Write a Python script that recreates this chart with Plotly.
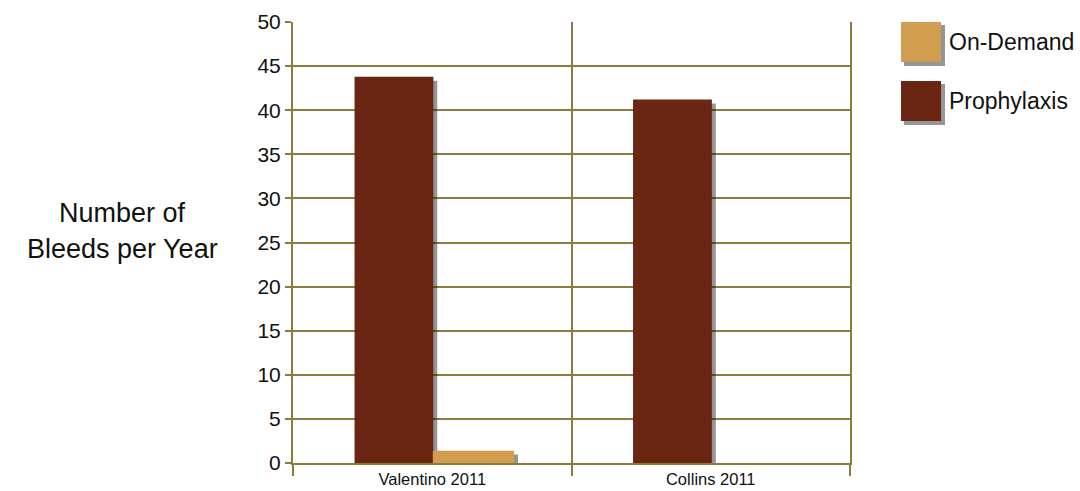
import plotly.graph_objects as go

categories = ["Valentino 2011", "Collins 2011"]
prophylaxis = [43.8, 41.2]
on_demand = [1.4, None]
y_ticks = [0, 5, 10, 15, 20, 25, 30, 35, 40, 45, 50]

PROPH = "#6b2513"
ONDEM = "#d19d4e"
GRID = "#8a7d3c"
SHADOW = "rgba(20,20,20,0.45)"
FONT = "Liberation Sans, Arial, sans-serif"

# bar geometry (style): offsets/widths in category units
P_OFF, P_W = -0.279, 0.283
O_OFF, O_W = 0.002, 0.292
SH_DX, SH_BASE = 0.014, -0.45

fig = go.Figure()
# drop shadows
fig.add_trace(go.Bar(x=categories, y=prophylaxis, base=SH_BASE, offset=P_OFF + SH_DX,
                     width=P_W, marker=dict(color=SHADOW, line=dict(width=0)),
                     hoverinfo="skip", showlegend=False, cliponaxis=False))
fig.add_trace(go.Bar(x=categories, y=on_demand, base=SH_BASE, offset=O_OFF + SH_DX,
                     width=O_W, marker=dict(color=SHADOW, line=dict(width=0)),
                     hoverinfo="skip", showlegend=False, cliponaxis=False))
# main bars
fig.add_trace(go.Bar(name="Prophylaxis", x=categories, y=prophylaxis, offset=P_OFF,
                     width=P_W, marker=dict(color=PROPH, line=dict(width=0))))
fig.add_trace(go.Bar(name="On-Demand", x=categories, y=on_demand, offset=O_OFF,
                     width=O_W, marker=dict(color=ONDEM, line=dict(width=0))))

fig.update_layout(
    width=1080, height=491,
    margin=dict(l=293, r=230, t=22, b=28, autoexpand=False),
    paper_bgcolor="white", plot_bgcolor="white",
    barmode="overlay",
    showlegend=False,
    font=dict(family=FONT, color="#111111"),
)
fig.update_yaxes(range=[0, 50], tickvals=y_ticks, showgrid=True, gridcolor=GRID,
                 gridwidth=2, zeroline=False, showline=True, mirror=True,
                 linecolor=GRID, linewidth=2,
                 ticks="outside", ticklen=6, tickcolor=GRID, tickwidth=2,
                 tickfont=dict(size=21, family=FONT, color="#111111"))
fig.update_xaxes(type="category", tickson="boundaries", showgrid=True, gridcolor=GRID,
                 gridwidth=2, ticks="outside", ticklen=11, tickcolor=GRID, tickwidth=2,
                 showline=True, linecolor=GRID, linewidth=2,
                 tickfont=dict(size=16.5, family=FONT, color="#111111"))

# Y-axis title (horizontal), two lines
for line, py in [("Number of", 213), ("Bleeds per Year", 249)]:
    fig.add_annotation(text=line, xref="paper", yref="paper",
                       x=(122 - 293) / 557, y=(463 - py) / 441, showarrow=False,
                       xanchor="center", yanchor="middle",
                       font=dict(size=27, family=FONT, color="#111111"))

# Custom legend
legend_items = [("On-Demand", ONDEM, 22), ("Prophylaxis", PROPH, 81)]
def px_to_paper_y(py):
    return (463 - py) / 441
def px_to_paper_x(px):
    return (px - 293) / 557
for name, color, top in legend_items:
    fig.add_shape(type="rect", xref="paper", yref="paper",
                  x0=px_to_paper_x(904), x1=px_to_paper_x(945),
                  y0=px_to_paper_y(top + 44), y1=px_to_paper_y(top + 3),
                  fillcolor=SHADOW, line=dict(width=0), layer="above")
    fig.add_shape(type="rect", xref="paper", yref="paper",
                  x0=px_to_paper_x(901), x1=px_to_paper_x(941),
                  y0=px_to_paper_y(top + 40), y1=px_to_paper_y(top),
                  fillcolor=color, line=dict(width=0), layer="above")
    fig.add_annotation(text=name, xref="paper", yref="paper",
                       x=px_to_paper_x(947), y=px_to_paper_y(top + 20),
                       xanchor="left", yanchor="middle", showarrow=False,
                       font=dict(size=23, family=FONT, color="#111111"))

fig.write_html("out.html")
